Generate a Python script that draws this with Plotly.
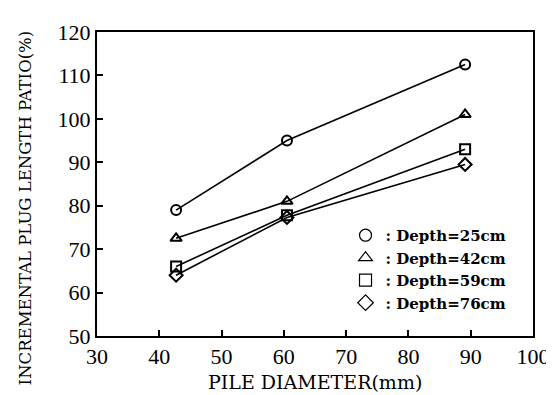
import plotly.graph_objects as go

diameter = [42.7, 60.5, 89.1]
depth_25 = [79.0, 95.0, 112.5]
depth_42 = [72.5, 81.0, 101.0]
depth_59 = [66.0, 77.8, 93.0]
depth_76 = [64.0, 77.3, 89.5]

series = [
    (": Depth=25cm", depth_25, "circle-open"),
    (": Depth=42cm", depth_42, "triangle-up-open"),
    (": Depth=59cm", depth_59, "square-open"),
    (": Depth=76cm", depth_76, "diamond-open"),
]

x_ticks = [30, 40, 50, 60, 70, 80, 90, 100]
y_ticks = [50, 60, 70, 80, 90, 100, 110, 120]

tick_font = "Liberation Serif"
title_font = "DejaVu Serif"

fig = go.Figure()
for name, vals, sym in series:
    fig.add_trace(go.Scatter(
        x=diameter, y=vals, mode="lines+markers", showlegend=False,
        line=dict(color="black", width=1.6),
        marker=dict(symbol=sym, size=10, color="black", line=dict(width=2, color="black")),
    ))
for name, vals, sym in series:
    fig.add_trace(go.Scatter(
        x=[None], y=[None], mode="markers", name=name,
        marker=dict(symbol=sym, size=12, color="black", line=dict(width=1.2, color="black")),
    ))

fig.update_layout(
    width=554, height=395,
    margin=dict(l=89, r=24, t=16, b=67),
    paper_bgcolor="white", plot_bgcolor="white",
    font=dict(family=tick_font, color="black", size=18),
    showlegend=True,
    legend=dict(
        x=0.57, y=0.385, xanchor="left", yanchor="top",
        bgcolor="rgba(0,0,0,0)",
        font=dict(size=15, family=title_font, weight="bold"),
        itemwidth=30, tracegroupgap=0, itemsizing="trace",
    ),
    xaxis=dict(
        range=[30, 100], tickvals=x_ticks, ticks="inside", ticklen=6,
        tickcolor="black", tickwidth=1.5, showline=True, linecolor="black", linewidth=2,
        mirror=True, showgrid=False, zeroline=False,
        tickfont=dict(size=22),
    ),
    yaxis=dict(
        range=[50, 120], tickvals=y_ticks, ticks="inside", ticklen=6,
        tickcolor="black", tickwidth=1.5, showline=True, linecolor="black", linewidth=2,
        mirror=True, showgrid=False, zeroline=False,
        tickfont=dict(size=22),
    ),
    annotations=[
        dict(text="PILE DIAMETER(mm)", xref="paper", yref="paper",
             x=0.5, y=-0.15, xanchor="center", yanchor="middle", showarrow=False,
             font=dict(family=title_font, size=19)),
        dict(text="INCREMENTAL PLUG LENGTH PATIO(%)", xref="paper", yref="paper",
             x=-0.165, y=0.42, xanchor="center", yanchor="middle", showarrow=False,
             textangle=-90, font=dict(family=title_font, size=16.5)),
    ],
)

fig.write_html("out.html")
